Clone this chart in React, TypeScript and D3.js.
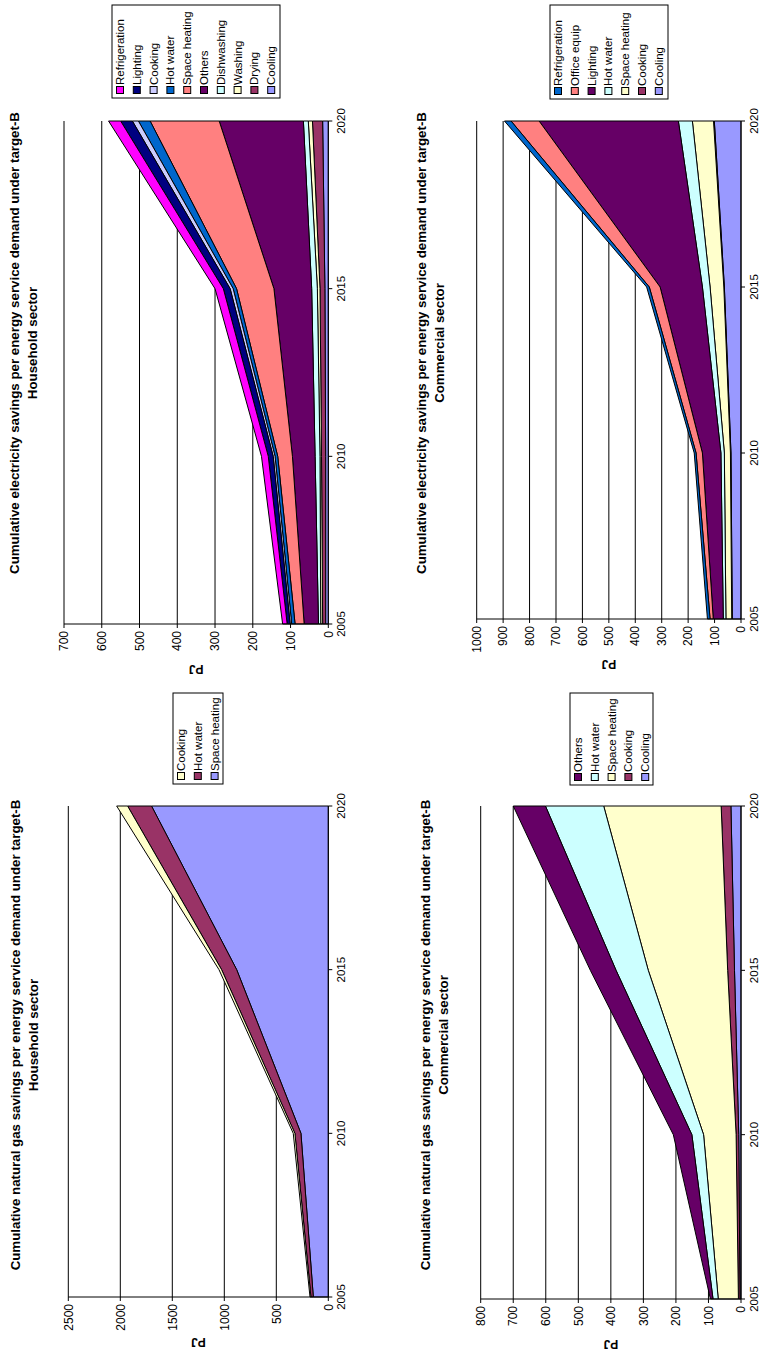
import React from 'react';
import * as d3 from 'd3';

// ---------- shared ----------
const years = [2005, 2010, 2015, 2020];
const palette = ['#9999FF', '#993366', '#FFFFCC', '#CCFFFF', '#660066', '#FF8080', '#0066CC', '#CCCCFF', '#000080', '#FF00FF'];

// ---------- Chart 1: electricity, household (stack order bottom -> top) ----------
const ehNames = ['Cooling', 'Drying', 'Washing', 'Dishwashing', 'Others', 'Space heating', 'Hot water', 'Cooking', 'Lighting', 'Refrigeration'];
const ehCooling = [7, 7, 9, 15];
const ehDrying = [8, 11, 13, 27];
const ehWashing = [5, 4, 7, 11];
const ehDishwashing = [6, 13, 15, 13];
const ehOthers = [38, 60, 100, 223];
const ehSpaceHeating = [24, 39, 99, 183];
const ehHotWater = [9, 7, 9, 31];
const ehCooking = [4, 5, 8, 16];
const ehLighting = [8, 13, 18, 31];
const ehRefrigeration = [12, 18, 22, 32];
const ehTicks = [0, 100, 200, 300, 400, 500, 600, 700];

// ---------- Chart 2: electricity, commercial ----------
const ecNames = ['Cooling', 'Cooking', 'Space heating', 'Hot water', 'Lighting', 'Office equip', 'Refrigeration'];
const ecCooling = [33, 38, 63, 101];
const ecCooking = [2, 2, 2, 3];
const ecSpaceHeating = [22, 23, 52, 80];
const ecHotWater = [10, 13, 29, 53];
const ecLighting = [38, 70, 160, 527];
const ecOfficeEquip = [12, 24, 41, 106];
const ecRefrigeration = [10, 7, 10, 25];
const ecTicks = [0, 100, 200, 300, 400, 500, 600, 700, 800, 900, 1000];

// ---------- Chart 3: natural gas, household ----------
const ghNames = ['Space heating', 'Hot water', 'Cooking'];
const ghSpaceHeating = [144, 263, 881, 1700];
const ghHotWater = [23, 58, 145, 230];
const ghCooking = [9, 16, 25, 105];
const ghTicks = [0, 500, 1000, 1500, 2000, 2500];

// ---------- Chart 4: natural gas, commercial ----------
const gcNames = ['Cooling', 'Cooking', 'Space heating', 'Hot water', 'Others'];
const gcCooling = [3, 7, 20, 31];
const gcCooking = [5, 8, 21, 30];
const gcSpaceHeating = [62, 100, 244, 361];
const gcHotWater = [16, 36, 99, 179];
const gcOthers = [8, 57, 79, 99];
const gcTicks = [0, 100, 200, 300, 400, 500, 600, 700, 800];

const titleElec = 'Cumulative electricity savings per energy service demand under target-B';
const titleGas = 'Cumulative natural gas savings per energy service demand under target-B';

const FONT = "'Liberation Sans', Arial, sans-serif";

type Cfg = {
  names: string[];
  values: number[][];
  colors: string[];
  ticks: number[];
  x0: number; xMax: number; yBottom: number; yTop: number;
  legend: [number, number, number, number];
  title1: string; title2: string; titleX: number; titleCY: number;
};

const charts: Cfg[] = [
  {
    names: ehNames,
    values: [ehCooling, ehDrying, ehWashing, ehDishwashing, ehOthers, ehSpaceHeating, ehHotWater, ehCooking, ehLighting, ehRefrigeration],
    colors: palette,
    ticks: ehTicks,
    x0: 328.3, xMax: 64, yBottom: 624, yTop: 121,
    legend: [112, 5, 280, 98],
    title1: titleElec, title2: 'Household sector', titleX: 19, titleCY: 343,
  },
  {
    names: ecNames,
    values: [ecCooling, ecCooking, ecSpaceHeating, ecHotWater, ecLighting, ecOfficeEquip, ecRefrigeration],
    colors: palette,
    ticks: ecTicks,
    x0: 741, xMax: 476.7, yBottom: 619, yTop: 121,
    legend: [550, 5, 668, 99],
    title1: titleElec, title2: 'Commercial sector', titleX: 426, titleCY: 343,
  },
  {
    names: ghNames,
    values: [ghSpaceHeating, ghHotWater, ghCooking],
    colors: palette,
    ticks: ghTicks,
    x0: 328.3, xMax: 68.3, yBottom: 1297, yTop: 806,
    legend: [173, 693, 223, 784],
    title1: titleGas, title2: 'Household sector', titleX: 20, titleCY: 1035,
  },
  {
    names: gcNames,
    values: [gcCooling, gcCooking, gcSpaceHeating, gcHotWater, gcOthers],
    colors: palette,
    ticks: gcTicks,
    x0: 741, xMax: 480.7, yBottom: 1299, yTop: 806,
    legend: [570, 693, 653, 785],
    title1: titleGas, title2: 'Commercial sector', titleX: 430, titleCY: 1035,
  },
];

function Chart({ cfg }: { cfg: Cfg }) {
  const max = cfg.ticks[cfg.ticks.length - 1];
  const xS = d3.scaleLinear().domain([0, max]).range([cfg.x0, cfg.xMax]);
  const yS = d3.scaleLinear().domain([2005, 2020]).range([cfg.yBottom, cfg.yTop]);
  const rows = years.map((yr, i) => {
    const r: any = { year: yr };
    cfg.names.forEach((n, k) => { r[n] = cfg.values[k][i]; });
    return r;
  });
  const stacked = d3.stack<any>().keys(cfg.names)(rows);
  const area = d3.area<any>()
    .y((d: any) => yS(d.data.year))
    .x0((d: any) => xS(d[0]))
    .x1((d: any) => xS(d[1]));

  const [lx1, ly1, lx2, ly2] = cfg.legend;
  const legendNames = [...cfg.names].reverse();
  const legendColors = cfg.names.map((_, i) => cfg.colors[i]).reverse();
  const xMid = (xS(0) + xS(max)) / 2;

  return (
    <g>
      {cfg.ticks.filter(t => t > 0).map(t => (
        <line key={'g' + t} x1={xS(t)} x2={xS(t)} y1={cfg.yBottom} y2={cfg.yTop} stroke="#000" strokeWidth={1} />
      ))}
      {stacked.map((s, i) => (
        <path key={cfg.names[i]} d={area(s as any) || ''} fill={cfg.colors[i]} stroke="#000" strokeWidth={1} strokeLinejoin="round" />
      ))}
      <line x1={xS(0)} x2={xS(max)} y1={cfg.yBottom} y2={cfg.yBottom} stroke="#000" strokeWidth={1} />
      {cfg.ticks.map(t => (
        <g key={'t' + t}>
          <line x1={xS(t)} x2={xS(t)} y1={cfg.yBottom} y2={cfg.yBottom + 4} stroke="#000" />
          <text transform={`translate(${xS(t)},${cfg.yBottom + 7}) rotate(-90)`} textAnchor="end" dy="0.35em"
            fontFamily={FONT} fontSize={12}>{t}</text>
        </g>
      ))}
      <line x1={xS(0)} x2={xS(0)} y1={cfg.yBottom} y2={cfg.yTop} stroke="#000" strokeWidth={1} />
      {years.map(y => (
        <g key={'y' + y}>
          <line x1={xS(0)} x2={xS(0) + 4} y1={yS(y)} y2={yS(y)} stroke="#000" />
          <text transform={`translate(${xS(0) + 17},${yS(y)}) rotate(-90)`} textAnchor="middle"
            fontFamily={FONT} fontSize={11.5}>{y}</text>
        </g>
      ))}
      <text transform={`translate(${xMid},${cfg.yBottom + 45}) rotate(180)`} textAnchor="middle" dy="0.35em"
        fontFamily={FONT} fontSize={12} fontWeight="bold">PJ</text>
      <text transform={`translate(${cfg.titleX},${cfg.titleCY}) rotate(-90)`} textAnchor="middle"
        fontFamily={FONT} fontSize={13.3} fontWeight="bold">{cfg.title1}</text>
      <text transform={`translate(${cfg.titleX + 18},${cfg.titleCY}) rotate(-90)`} textAnchor="middle"
        fontFamily={FONT} fontSize={13.3} fontWeight="bold">{cfg.title2}</text>
      <rect x={lx1} y={ly1} width={lx2 - lx1} height={ly2 - ly1} fill="#fff" stroke="#000" strokeWidth={1} />
      {legendNames.map((n, i) => {
        const cx = lx1 + 8 + i * 16.8;
        return (
          <g key={'l' + n}>
            <rect x={cx - 3.5} y={ly2 - 11.5} width={7} height={7} fill={legendColors[i]} stroke="#000" strokeWidth={1} />
            <text transform={`translate(${cx},${ly2 - 13}) rotate(-90)`} textAnchor="start" dy="0.35em"
              fontFamily={FONT} fontSize={11.5}>{n}</text>
          </g>
        );
      })}
    </g>
  );
}

export default function App() {
  return (
    <svg width={764} height={1356} style={{ position: 'absolute', left: 0, top: 0, background: '#fff' }}>
      <rect x={0} y={0} width={764} height={1356} fill="#fff" />
      {charts.map((c, i) => <Chart key={i} cfg={c} />)}
    </svg>
  );
}
